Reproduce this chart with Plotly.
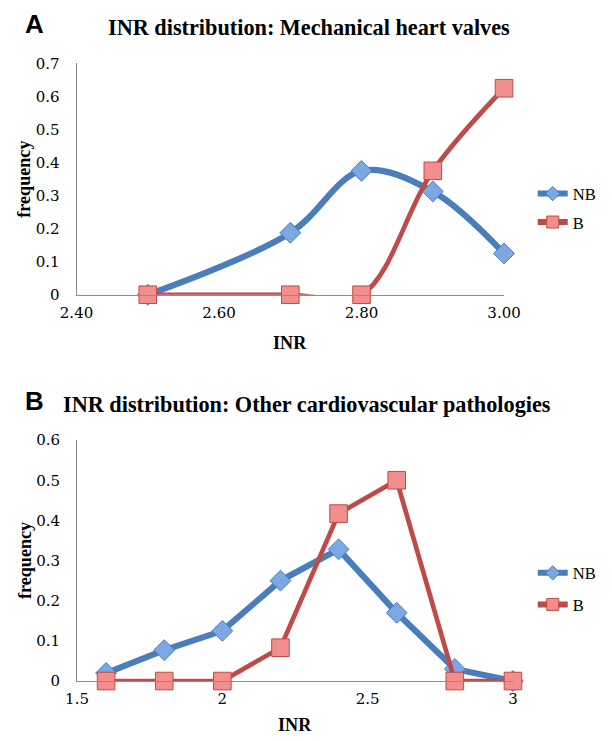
import plotly.graph_objects as go

# Panel A data
a_x = [2.5, 2.7, 2.8, 2.9, 3.0]
a_nb = [0.0, 0.1875, 0.375, 0.3125, 0.125]
a_b = [0.0, 0.0, 0.0, 0.375, 0.625]
a_xticks = [2.4, 2.6, 2.8, 3.0]
a_yticks = [0, 0.1, 0.2, 0.3, 0.4, 0.5, 0.6, 0.7]

# Panel B data
b_x = [1.6, 1.8, 2.0, 2.2, 2.4, 2.6, 2.8, 3.0]
b_nb = [0.02, 0.077, 0.125, 0.25, 0.328, 0.17, 0.03, 0.0]
b_b = [0.0, 0.0, 0.0, 0.083, 0.417, 0.5, 0.0, 0.0]
b_xticks = [1.5, 2, 2.5, 3]
b_yticks = [0, 0.1, 0.2, 0.3, 0.4, 0.5, 0.6]

BLUE = "#4a7ebb"
RED = "#be4b48"
BLUE_FILL = "#7ba7e2"
RED_FILL = "#f28e8b"
SERIF = "Liberation Serif"
TICK_SERIF = "DejaVu Serif"
W, H = 612, 741

# The captured picture shows the page slightly inset and scaled; these constants
# map wanted picture pixels to figure pixels.
OX, SX = 12.5, 0.955
OY, SY = 6.0, 0.98
FS = 1.035  # font / marker compensation


def fx(p):
    return ((p - OX) / SX) / W


def fy(p):
    return 1 - ((p - OY) / SY) / H


def fs(v):
    return v * FS


fig = go.Figure()

styles = {
    "NB": dict(color=BLUE, fill=BLUE_FILL, symbol="diamond", size=15.5, width=6.2, lsize=11),
    "B": dict(color=RED, fill=RED_FILL, symbol="square", size=17, width=4.7, lsize=12),
}


def add_series(xs, ys, name, xa, ya, leg, spline, grp):
    st = styles[name]
    line = dict(color=st["color"], width=st["width"])
    if spline:
        line.update(shape="spline", smoothing=1)
    fig.add_trace(go.Scatter(x=xs, y=ys, name=name, mode="lines+markers", line=line,
                             marker=dict(symbol=st["symbol"], size=fs(st["size"]), color=st["fill"],
                                         line=dict(color=st["color"], width=1)),
                             cliponaxis=False, xaxis=xa, yaxis=ya, showlegend=False,
                             hoverinfo="skip"))
    fig.add_trace(go.Scatter(x=[None], y=[None], name=name, mode="lines+markers",
                             line=dict(color=st["color"], width=6),
                             marker=dict(symbol=st["symbol"], size=st["lsize"], color=st["fill"],
                                         line=dict(color=st["color"], width=1)),
                             xaxis=xa, yaxis=ya, legend=leg, legendgroup=grp, showlegend=True))


add_series(a_x, a_nb, "NB", "x", "y", "legend", True, "a_nb")
add_series(a_x, a_b, "B", "x", "y", "legend", True, "a_b")
add_series(b_x, b_nb, "NB", "x2", "y2", "legend2", False, "b_nb")
add_series(b_x, b_b, "B", "x2", "y2", "legend2", False, "b_b")

legend_font = dict(family=SERIF, size=fs(16), color="#000")
fig.update_layout(
    width=W, height=H,
    margin=dict(l=0, r=0, t=0, b=0),
    paper_bgcolor="white", plot_bgcolor="white",
    font=dict(family=SERIF, color="#000", size=fs(16)),
    hovermode=False,
    xaxis=dict(domain=[fx(72.7), fx(505)], range=[2.4, 3.0], tickvals=a_xticks,
               tickformat=".2f", anchor="y"),
    yaxis=dict(domain=[fy(293), fy(60.7)], range=[0, 0.7], tickvals=a_yticks, anchor="x"),
    xaxis2=dict(domain=[fx(73.2), fx(514)], range=[1.5, 3.0], tickvals=b_xticks, anchor="y2"),
    yaxis2=dict(domain=[fy(681), fy(439)], range=[0, 0.6], tickvals=b_yticks, anchor="x2"),
    legend=dict(x=fx(534), y=fy(174), xanchor="left", yanchor="top", font=legend_font,
                bgcolor="rgba(0,0,0,0)", tracegroupgap=4, itemwidth=30),
    legend2=dict(x=fx(534), y=fy(555), xanchor="left", yanchor="top", font=legend_font,
                 bgcolor="rgba(0,0,0,0)", tracegroupgap=7, itemwidth=30),
)
fig.update_xaxes(showgrid=False, zeroline=False, showline=True, linecolor="#8c8c8c",
                 linewidth=1, ticks="", ticklabelstandoff=4,
                 tickfont=dict(family=TICK_SERIF, size=fs(14.5), color="#000"))
fig.update_yaxes(showgrid=False, zeroline=False, showline=True, linecolor="#8c8c8c",
                 linewidth=1, ticks="", ticklabelstandoff=13,
                 tickfont=dict(family=TICK_SERIF, size=fs(14.5), color="#000"))


def note(text, x, y, size, family=SERIF, angle=0):
    return dict(text=text, x=fx(x), y=fy(y), xref="paper", yref="paper", showarrow=False,
                xanchor="center", yanchor="middle", textangle=angle,
                font=dict(family=family, size=fs(size), color="#000"))


ann = [
    note("<b>A</b>", 30.5, 21, 25, family="Liberation Sans"),
    note("<b>INR distribution: Mechanical heart valves</b>", 307.5, 25, 21.5),
    note("<b>B</b>", 30.5, 400, 25, family="Liberation Sans"),
    note("<b>INR distribution: Other cardiovascular pathologies</b>", 306, 403, 21.5),
    note("<b>frequency</b>", 20, 177, 17.5, angle=-90),
    note("<b>INR</b>", 289, 341, 17.5),
    note("<b>frequency</b>", 20, 560, 17.5, angle=-90),
    note("<b>INR</b>", 293.5, 725, 17.5),
]
fig.update_layout(annotations=ann)

fig.write_html("out.html", config={"displayModeBar": False},
               post_script="document.body.style.margin='0';")
